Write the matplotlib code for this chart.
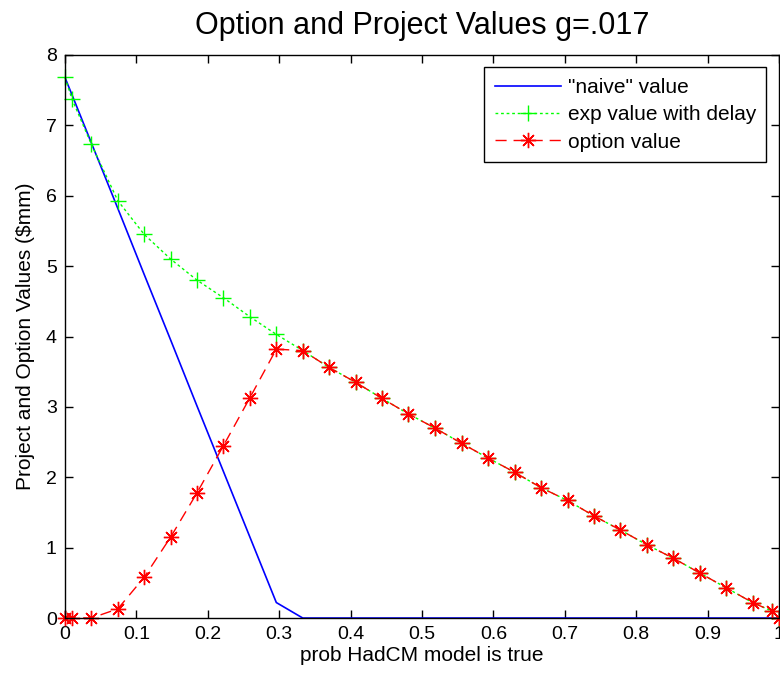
import matplotlib
matplotlib.use("Agg")
import matplotlib.pyplot as plt

plt.rcParams['font.family'] = ['Liberation Sans', 'DejaVu Sans']

# prob HadCM model is true
prob = [0, 0.01, 0.037, 0.074, 0.111, 0.148, 0.185, 0.222, 0.259, 0.296,
        0.333, 0.370, 0.407, 0.444, 0.481, 0.518, 0.556, 0.593, 0.630, 0.667,
        0.704, 0.741, 0.778, 0.815, 0.852, 0.889, 0.926, 0.963, 0.99, 1.0]

naive_value = [7.68, 7.43, 6.75, 5.82, 4.88, 3.95, 3.01, 2.08, 1.15, 0.22,
               0, 0, 0, 0, 0, 0, 0, 0, 0, 0,
               0, 0, 0, 0, 0, 0, 0, 0, 0, 0]

exp_value = [7.68, 7.37, 6.73, 5.93, 5.45, 5.10, 4.80, 4.55, 4.28, 4.03,
             3.80, 3.56, 3.35, 3.12, 2.90, 2.70, 2.48, 2.27, 2.07, 1.85,
             1.67, 1.45, 1.25, 1.04, 0.85, 0.64, 0.43, 0.22, 0.10, 0.0]

option_value = [0, 0, 0, 0.13, 0.58, 1.15, 1.78, 2.45, 3.13, 3.82,
                3.80, 3.56, 3.35, 3.12, 2.90, 2.70, 2.48, 2.27, 2.07, 1.85,
                1.67, 1.45, 1.25, 1.04, 0.85, 0.64, 0.43, 0.22, 0.10, 0.0]

fig = plt.figure(figsize=(7.8, 6.77), dpi=100)
ax = fig.add_axes([0.0833, 0.0871, 0.9154, 0.8317])

ax.plot(prob, naive_value, color='#0000ff', lw=1.2, label='"naive" value')
ax.plot(prob, exp_value, color='#00ff00', lw=1.0, linestyle=(0, (2, 2)),
        marker='+', markersize=12, markeredgewidth=1.0, clip_on=False,
        label='exp value with delay')
ax.plot(prob, option_value, color='#ff0000', lw=1.0, linestyle=(0, (8, 5)),
        marker=(8, 2, 0), markersize=11, markeredgewidth=1.0, clip_on=False,
        label='option value')

ax.set_xlim(0, 1)
ax.set_ylim(0, 8)
ax.set_xticks([0, 0.1, 0.2, 0.3, 0.4, 0.5, 0.6, 0.7, 0.8, 0.9, 1])
ax.set_xticklabels(['0', '0.1', '0.2', '0.3', '0.4', '0.5', '0.6', '0.7', '0.8', '0.9', '1'])
ax.set_yticks(range(0, 9))
ax.tick_params(direction='in', top=True, right=True, labelsize=14, length=6, width=1, pad=6)
for s in ax.spines.values():
    s.set_linewidth(1.0)

ax.set_title('Option and Project Values g=.017', fontsize=22, pad=15)
ax.set_xlabel('prob HadCM model is true', fontsize=15, labelpad=2)
ax.set_ylabel('Project and Option Values ($mm)', fontsize=15, labelpad=8)

leg = ax.legend(loc='upper right', fontsize=15, frameon=True, fancybox=False,
                edgecolor='black', framealpha=1, handlelength=3.2,
                handletextpad=0.3, borderaxespad=0.6, labelspacing=0.4,
                borderpad=0.5)
leg.get_frame().set_linewidth(1.0)

fig.savefig('out.png', dpi=100)
